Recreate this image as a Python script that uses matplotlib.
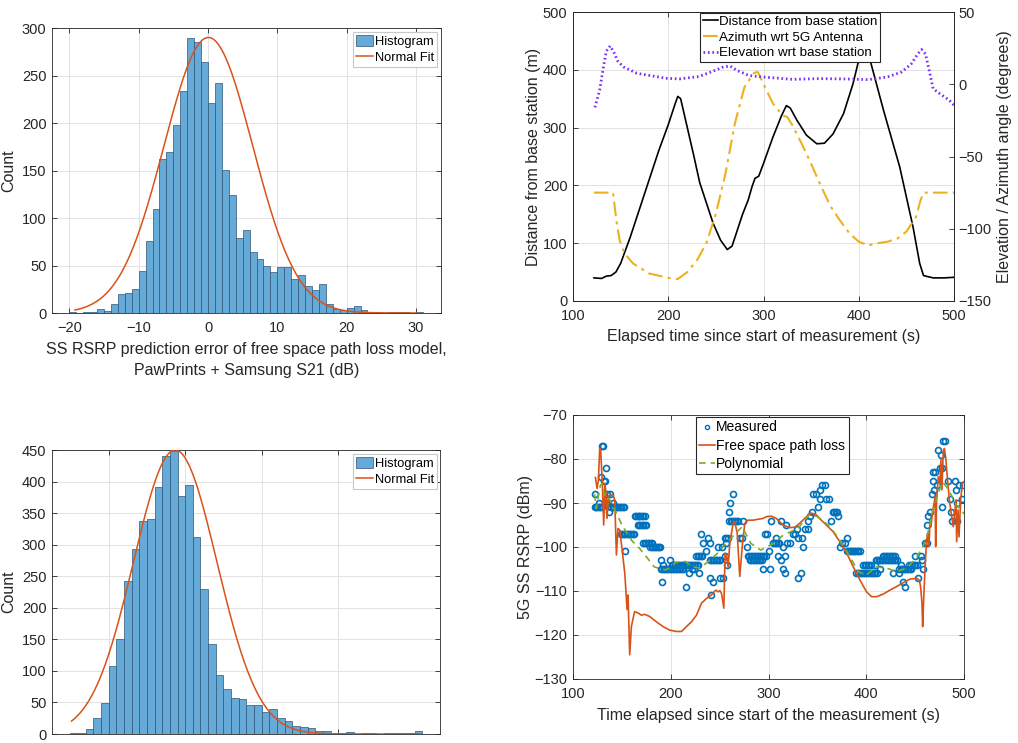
import numpy as np
import matplotlib
matplotlib.use('Agg')
import matplotlib.pyplot as plt
from matplotlib.lines import Line2D
from matplotlib.patches import Patch

plt.rcParams['font.family'] = ['Liberation Sans', 'DejaVu Sans']

TXT = '#262626'
GRID = '#e2e2e2'
BLUE = '#0072BD'
ORANGE = '#D95319'
YELLOW = '#EDB120'
GREEN = '#77AC30'
PURPLE = '#7B2FF7'
HIST_FACE = '#66AAD7'
HIST_EDGE = '#2f5577'

# ---------------- data ----------------
# top-left histogram (bin left edges, width 1 dB)
h1_left = list(range(-20, 31))
h1_counts = [1, 0, 1, 1, 4, 2, 9, 20, 21, 25, 44, 76, 110, 162, 169, 198, 234, 290, 285, 264,
             221, 242, 151, 124, 79, 87, 64, 57, 50, 43, 48, 48, 36, 40, 28, 24, 31, 10, 4, 3,
             5, 7, 3, 1, 1, 0, 1, 1, 1, 0, 1]
fit1_mu, fit1_sigma, fit1_peak = 0.05, 6.4, 290
fit1_range = (-19.2, 30.0)

# bottom-left histogram
h2_left = list(range(-15, 31))
h2_counts = [2, 1, 8, 25, 49, 107, 150, 242, 293, 337, 340, 391, 441, 448, 377, 394, 312, 230,
             142, 93, 71, 57, 56, 46, 46, 35, 40, 26, 20, 12, 11, 9, 5, 4, 2, 2, 3, 0, 2, 1,
             0, 1, 1, 1, 2, 5]
fit2_mu, fit2_sigma, fit2_peak = -1.3, 5.45, 450
fit2_range = (-14.85, 30.8)

# top-right: distance / azimuth / elevation
dist_t = [122, 130, 135, 140, 145, 150, 160, 170, 180, 190, 200, 207, 210, 213, 220, 227, 233,
          240, 247, 255, 262, 267, 272, 278, 284, 288, 291, 295, 300, 310, 319, 324, 328, 335,
          345, 356, 364, 373, 384, 394, 399, 404, 407, 410, 413, 426, 443, 457, 464, 468, 478,
          490, 500]
dist_m = [40, 39, 43, 44, 50, 65, 110, 160, 210, 260, 305, 340, 354, 350, 300, 250, 205,
          170, 135, 105, 89, 95, 120, 150, 175, 198, 212, 216, 238, 284, 321, 338, 334, 313,
          287, 272, 273, 289, 324, 376, 410, 440, 450, 432, 410, 330, 232, 128, 65, 44, 40,
          40, 41]
az_t = [122, 142, 145.5, 149, 154, 163, 180, 200, 210, 220, 230, 240, 250, 260, 270, 280, 290,
        294, 303, 310, 320, 325, 330, 340, 350, 360, 370, 380, 390, 400, 410, 420, 430, 440,
        450, 460, 465, 468, 500]
az_deg = [-75, -75, -94, -108, -117, -124, -131, -134, -134.8, -130, -122, -110, -89.6, -62,
          -27, -2, 7.8, 8.5, -4, -13.4, -21.5, -22.7, -28, -41, -55, -70, -84, -94, -103,
          -109, -111.5, -110, -109, -107, -102, -92, -80, -75, -75]
el_t = [123, 128, 132, 135, 139, 143, 147, 153, 167, 198, 212, 232, 245, 258, 265, 272, 285,
        300, 330, 360, 390, 410, 430, 445, 455, 462, 466, 470, 474, 478, 485, 495, 500]
el_deg = [-16, -4, 12, 23, 26.5, 22, 16, 12, 7.6, 4.1, 3.7, 5.3, 8.5, 12, 12.6, 9.6, 6,
          5, 3.4, 3.9, 3.6, 3.2, 5, 8.5, 14, 21, 24, 21, 9.6, -3, -6.5, -11, -14.6]

# bottom-right: measured RSRP (t, dBm)
measured = [
    (122, -88), (122, -91), (123.5, -91), (125, -91), (126.5, -91), (127, -90), (128, -91),
    (129, -84), (129.5, -77), (131, -77), (130, -91), (132, -85), (133, -85), (133.5, -82),
    (134, -90), (135, -88), (136, -90), (137, -92), (138, -88), (139, -91), (140.5, -91),
    (141, -90), (142, -91), (143.5, -91), (145, -91), (146.5, -91), (148, -91), (149.5, -91),
    (151, -91), (152.5, -91), (153, -101),
    (149, -97), (150.5, -97), (152, -97), (153.5, -97), (155, -97), (156.5, -97), (158, -97),
    (159.5, -97), (161, -97), (162.5, -97),
    (163, -93), (164.5, -93), (166, -93), (167.5, -93), (169, -93), (170.5, -93), (172, -93),
    (173.5, -93),
    (166, -95), (167.5, -95), (169, -95), (170.5, -95), (172, -95), (173.5, -95), (175, -95),
    (172, -99), (173.5, -99), (175, -99), (176.5, -99), (178, -99), (179.5, -99), (181, -99),
    (179, -100), (180.5, -100), (182, -100), (183.5, -100), (185, -100), (186.5, -100),
    (188, -100), (189.5, -100),
    (190.4, -103), (191, -108), (192, -104), (199, -103),
    (190, -105), (191.5, -105), (193, -105), (194.5, -105), (196, -105), (197.5, -105),
    (199, -105), (200.5, -105), (202, -105), (203.5, -105), (205, -105), (206.5, -105),
    (208, -105), (209.5, -105), (211, -105), (212.5, -105), (222, -105), (224, -105),
    (201, -104), (202.5, -104), (204, -104), (205.5, -104), (207, -104), (208.5, -104),
    (210, -104), (211.5, -104), (213, -104), (214.5, -104), (216, -104), (217.5, -104),
    (219, -104), (220.5, -104), (222, -104), (223.5, -104), (225, -104), (226.5, -104),
    (228, -104),
    (216, -109), (219, -106), (229, -106),
    (226, -102), (227.5, -102), (229, -102), (230.5, -102), (232, -102),
    (231, -97), (233, -99), (236, -101), (238, -98), (240, -99), (240.6, -107), (243, -108),
    (241.6, -111),
    (240, -103), (241.5, -103), (243, -103), (244.5, -103), (246, -103), (247.5, -103),
    (249, -103), (250.5, -103),
    (248.5, -100), (252, -100), (250, -107), (253, -107),
    (255, -98), (257, -98), (259, -98), (257, -99), (256, -102), (258, -104), (260, -92),
    (260.5, -90), (264, -88),
    (260, -94), (261.5, -94), (263, -94), (264.5, -94), (266, -94), (267.5, -94), (269, -94),
    (270.6, -98), (274, -94), (273, -98), (277.5, -100),
    (279, -102), (280.5, -102), (282, -102), (283.5, -102), (285, -102), (286.5, -102),
    (288, -102), (289.5, -102), (291, -102), (292.5, -102), (294, -102), (295.5, -102),
    (297, -102),
    (281, -103), (282.5, -103), (284, -103), (285.5, -103), (287, -103), (288.5, -103),
    (290, -103), (291.5, -103), (293, -103),
    (296, -97), (298, -97), (294, -105), (301, -101), (301.4, -105), (303, -94),
    (305, -99), (306.5, -99), (308, -99), (309.5, -99), (311, -99),
    (308, -98), (310, -102), (313, -94), (313, -103), (315, -105), (316.7, -106), (315, -100),
    (316.7, -102), (318, -95), (319, -99), (322, -99), (324.6, -97), (327, -97), (328.7, -96),
    (330, -107), (333, -106), (330, -98), (334, -98), (335.5, -100), (337, -96), (340.6, -96),
    (340.6, -94), (342, -93), (344, -92), (345.7, -88), (348.5, -88), (351, -91),
    (352.6, -89), (353, -87), (355, -86), (357.7, -86), (359, -89), (362, -89), (363.5, -94),
    (366, -92), (367.5, -92), (369, -92), (370.5, -92), (371, -93),
    (373, -100), (374.7, -99), (378, -99), (380, -98),
    (380, -101), (381.5, -101), (383, -101), (384.5, -101), (386, -101), (387.5, -101),
    (389, -101), (390.5, -101), (392, -101), (393.5, -101),
    (390, -106), (391.5, -106), (393, -106), (394.5, -106), (396, -106), (397.5, -106),
    (399, -106), (400.5, -106), (403, -106), (404.5, -106), (406, -106), (407.5, -106),
    (409, -106), (410.5, -106),
    (397, -104), (398.5, -104), (400, -104), (401.5, -104), (403, -104), (404.5, -104),
    (409, -104),
    (410, -103), (411.5, -103), (413, -103), (414.5, -103), (416, -103), (417.5, -103),
    (419, -103), (420.5, -103), (422, -103), (423.5, -103), (425, -103), (426.5, -103),
    (428, -103), (429.5, -103), (431, -103),
    (414, -105),
    (417, -102), (418.5, -102), (420, -102), (421.5, -102), (423, -102), (424.5, -102),
    (426, -102), (427.5, -102), (429, -102),
    (427.6, -106), (433, -106), (436, -104), (438, -108), (439.6, -109),
    (434, -105), (435.5, -105), (437, -105), (438.5, -105), (440, -105), (441.5, -105),
    (443, -105), (444.5, -105), (446, -105),
    (444, -104), (445.5, -104), (447, -104), (448.5, -104), (450, -104), (451.5, -104),
    (450, -102), (453, -107), (455.6, -102), (456.7, -103), (457.7, -105), (460, -99),
    (461, -99), (462.5, -99), (461.8, -95), (463.5, -93), (465, -92), (467, -88), (468, -85),
    (469, -87), (468.6, -83), (470, -83), (472, -86), (473.7, -78), (475.4, -82), (477, -82),
    (476.4, -79), (479, -76), (480.5, -76), (477, -91), (484, -85), (485.6, -89), (487, -92),
    (487.8, -94), (490.8, -85), (491.8, -87), (492.5, -94), (493, -90), (495, -86),
    (497.6, -89), (499.3, -86),
]
meas_t = [p[0] for p in measured]
meas_v = [p[1] for p in measured]

fspl_t = [122.9, 124.6, 126, 127.3, 128.3, 129, 130, 131.4, 132.8, 134, 134.8, 136, 137.5, 141,
          142.7, 144.4, 146, 147.8, 149.5, 153, 155.3, 156.3, 158, 159.7, 163, 166.6, 170,
          173.4, 178.5, 185.3, 192.2, 199, 205.8, 211, 216, 221.2, 226.3, 231.4, 236.5, 241.6,
          246, 248.5, 250.2, 251.9, 254.3, 255.6, 257, 258.7, 260.4, 263.8, 265.5, 268, 270.6,
          273.4, 275.8, 279, 284.3, 294.5, 298, 303, 308, 315, 321.8, 327, 332, 338.9, 344,
          349, 354, 361, 366, 373, 380, 386.7, 393.5, 400.3, 405.5, 410.6, 417.4, 424.2, 431,
          437.9, 444.7, 451.5, 454.2, 455.6, 457, 457.7, 459, 460.4, 461.8, 462.8, 464.2,
          465.2, 466.2, 468, 469.4, 470.4, 471, 472, 473.7, 475.4, 476.4, 477.4, 478.8, 479.9,
          481.2, 482.9, 485, 487.4, 489, 490.8, 491.8, 492.5, 493.9, 494.9, 496.6, 498.3,
          499.3]
fspl_v = [-84.2, -86.7, -84.8, -77.6, -78, -81, -85.5, -95, -85.5, -88.6, -93.5, -89.3, -88.2,
          -88.2, -89.3, -101.8, -95.8, -96.1, -99.2, -106, -114.2, -110.9, -124.5, -118.1,
          -114.7, -115, -115.5, -115.3, -115.8, -117, -118.1, -118.9, -119.2, -119.2, -118.1,
          -117, -115.5, -112.8, -111.7, -110.9, -109.8, -110.2, -109.9, -110.5, -113.9,
          -101.4, -102.2, -104.5, -99.2, -94.6, -94.2, -96.9, -106.7, -99.2, -94.6, -93.9,
          -93.9, -93.5, -93.1, -93, -93.5, -95, -95.6, -95.5, -94.6, -93.1, -92.3, -92.7,
          -93.9, -95.4, -96.5, -98.8, -101.4, -104.5, -107.5, -110.2, -111.3, -111.3, -110.7,
          -109.8, -109, -108.1, -107.3, -107.1, -107.5, -109, -112.8, -118.1, -110.5, -103.7,
          -98.4, -96.9, -99.9, -93.9, -95.4, -91.6, -90.1, -88.6, -99.9, -89.3, -84, -85.5,
          -80.2, -87, -78.3, -77.6, -79.5, -84, -89.3, -93.1, -95.4, -91.6, -89.3, -98.8,
          -91.6, -97.7, -89.3, -85.5, -85.2]

poly_t = [122, 124, 126, 128, 130, 133, 137, 140, 145, 150, 160, 168, 175, 183, 190, 195, 200,
          205, 215, 222, 230, 240, 250, 255, 265, 273, 282, 292, 305, 315, 330, 342, 350, 361,
          370, 380, 392, 400, 410, 421, 431, 441, 451, 458, 463, 468, 473, 478, 482, 487, 492,
          497, 500]
poly_v = [-88, -91.2, -88.2, -86, -85.5, -89, -89, -90.5, -92.5, -95, -98.5, -100.3, -102.2,
          -104.5, -105, -105.2, -104.5, -103.5, -103.3, -104.5, -104.8, -103, -101, -99.5,
          -97.2, -95.4, -99.2, -100.7, -99.2, -97.3, -95.8, -92.6, -93.1, -95, -97.5, -101,
          -105.6, -106.4, -104.5, -104.8, -105.6, -104.8, -102.6, -99.9, -96.9, -92, -88.2,
          -85.2, -86.3, -88.2, -90.5, -91.5, -92.5]

# ---------------- figure ----------------
fig = plt.figure(figsize=(10.18, 7.43), dpi=100)
W, H = 1018.0, 743.0


def axes_px(l, t, r, b):
    return fig.add_axes([l / W, 1 - b / H, (r - l) / W, (b - t) / H])


def style(ax, top_right=True):
    for s in ax.spines.values():
        s.set_color(TXT)
        s.set_linewidth(0.6)
    ax.tick_params(direction='in', length=3.5, width=0.6, colors=TXT, labelsize=10.5,
                   top=top_right, right=top_right)
    ax.tick_params(axis='x', pad=6)
    ax.tick_params(axis='y', pad=4)
    ax.grid(True, color=GRID, linewidth=0.7)
    ax.set_axisbelow(True)


def legend_style(leg, edge):
    fr = leg.get_frame()
    fr.set_edgecolor(edge)
    fr.set_linewidth(0.8)
    fr.set_boxstyle('square', pad=0.0)
    for t in leg.get_texts():
        t.set_color('black')


# ---- top-left histogram ----
ax1 = axes_px(52, 28, 441, 313)
style(ax1)
ax1.bar(h1_left, h1_counts, width=1.0, align='edge', color=HIST_FACE,
        edgecolor=HIST_EDGE, linewidth=0.5, zorder=2)
x1 = np.linspace(fit1_range[0], fit1_range[1], 300)
ax1.plot(x1, fit1_peak * np.exp(-(x1 - fit1_mu) ** 2 / (2 * fit1_sigma ** 2)),
         color=ORANGE, lw=1.1, zorder=3)
ax1.set_xlim(-22.5, 33.6)
ax1.set_ylim(0, 300)
ax1.set_xticks([-20, -10, 0, 10, 20, 30])
ax1.set_yticks([0, 50, 100, 150, 200, 250, 300])
ax1.set_ylabel('Count', fontsize=11.5, color=TXT, labelpad=4)
ax1.set_xlabel('SS RSRP prediction error of free space path loss model,\n'
               'PawPrints + Samsung S21 (dB)', fontsize=11.5, color=TXT, labelpad=5,
               linespacing=1.45)
h_hist = Patch(facecolor=HIST_FACE, edgecolor=HIST_EDGE, linewidth=0.5)
h_fit = Line2D([], [], color=ORANGE, lw=1.1)
leg1 = ax1.legend([h_hist, h_fit], ['Histogram', 'Normal Fit'], loc='upper right',
                  bbox_to_anchor=((437 - 52) / 389, 1 - 4 / 285), fontsize=9.3,
                  handlelength=1.35, handleheight=0.9, handletextpad=0.1, borderpad=0.25,
                  labelspacing=0.25, borderaxespad=0, fancybox=False, framealpha=1)
legend_style(leg1, '#c8c8c8')

# ---- bottom-left histogram ----
ax3 = axes_px(52, 450, 440, 734)
style(ax3)
ax3.bar(h2_left, h2_counts, width=1.0, align='edge', color=HIST_FACE,
        edgecolor=HIST_EDGE, linewidth=0.5, zorder=2)
x2 = np.linspace(fit2_range[0], fit2_range[1], 300)
ax3.plot(x2, fit2_peak * np.exp(-(x2 - fit2_mu) ** 2 / (2 * fit2_sigma ** 2)),
         color=ORANGE, lw=1.1, zorder=3)
ax3.set_xlim(-17.4, 33.3)
ax3.set_ylim(0, 450)
ax3.set_xticks([-10, 0, 10, 20])
ax3.set_yticks(range(0, 451, 50))
ax3.tick_params(labelbottom=False)
ax3.set_ylabel('Count', fontsize=11.5, color=TXT, labelpad=4)
leg3 = ax3.legend([h_hist, h_fit], ['Histogram', 'Normal Fit'], loc='upper right',
                  bbox_to_anchor=((437 - 52) / 388, 1 - 4 / 284), fontsize=9.3,
                  handlelength=1.35, handleheight=0.9, handletextpad=0.1, borderpad=0.25,
                  labelspacing=0.25, borderaxespad=0, fancybox=False, framealpha=1)
legend_style(leg3, '#c8c8c8')

# ---- top-right distance / angles ----
ax2 = axes_px(573, 12, 954, 301)
style(ax2, top_right=False)
ax2.tick_params(top=True)
l_dist, = ax2.plot(dist_t, dist_m, color='black', lw=1.2, zorder=3)
ax2.set_xlim(100, 500)
ax2.set_ylim(0, 500)
ax2.set_xticks([100, 200, 300, 400, 500])
ax2.set_yticks([0, 100, 200, 300, 400, 500])
ax2.set_xlabel('Elapsed time since start of measurement (s)', fontsize=11.5, color=TXT,
               labelpad=4)
ax2.set_ylabel('Distance from base station (m)', fontsize=11.5, color=TXT, labelpad=1)
ax2b = ax2.twinx()
ax2b.set_ylim(-150, 50)
ax2b.set_yticks([-150, -100, -50, 0, 50])
ax2b.tick_params(direction='in', length=3.5, width=0.6, colors=TXT, labelsize=10.5, pad=3)
for s in ax2b.spines.values():
    s.set_color(TXT)
    s.set_linewidth(0.6)
l_az, = ax2b.plot(az_t, az_deg, color=YELLOW, lw=1.5, linestyle=(0, (7, 2.5, 1.5, 2.5)))
l_el, = ax2b.plot(el_t, el_deg, color=PURPLE, lw=2.0, linestyle=(0, (0.6, 1.0)))
ax2b.set_ylabel('Elevation / Azimuth angle (degrees)', fontsize=11.5, color=TXT, labelpad=4)
leg2 = ax2b.legend([l_dist, l_az, l_el],
                   ['Distance from base station', 'Azimuth wrt 5G Antenna',
                    'Elevation wrt base station'],
                   loc='upper left', bbox_to_anchor=((700 - 573) / 381, 1 - 1 / 289),
                   fontsize=9.6, handlelength=1.15, handletextpad=0.1, borderpad=0.2,
                   labelspacing=0.25, borderaxespad=0, fancybox=False, framealpha=1)
legend_style(leg2, TXT)

# ---- bottom-right RSRP ----
ax4 = axes_px(573, 415, 964, 679)
style(ax4)
l_meas, = ax4.plot(meas_t, meas_v, linestyle='none', marker='o', markersize=4.3,
                   markerfacecolor='none', markeredgecolor=BLUE, markeredgewidth=1.2,
                   zorder=3)
l_fspl, = ax4.plot(fspl_t, fspl_v, color=ORANGE, lw=1.2, zorder=4)
l_poly, = ax4.plot(poly_t, poly_v, color=GREEN, lw=1.2, linestyle=(0, (4, 3)), zorder=5)
ax4.set_xlim(100, 500)
ax4.set_ylim(-130, -70)
ax4.set_xticks([100, 200, 300, 400, 500])
ax4.set_yticks(range(-130, -69, 10))
ax4.set_xlabel('Time elapsed since start of the measurement (s)', fontsize=11.5, color=TXT,
               labelpad=5)
ax4.set_ylabel('5G SS RSRP (dBm)', fontsize=11.5, color=TXT, labelpad=1)
h_meas = Line2D([], [], linestyle='none', marker='o', markersize=3, markerfacecolor='none',
                markeredgecolor=BLUE, markeredgewidth=1.0)
leg4 = ax4.legend([h_meas, l_fspl, l_poly], ['Measured', 'Free space path loss', 'Polynomial'],
                  loc='upper left', bbox_to_anchor=((696 - 573) / 391, 1 - 2 / 264),
                  fontsize=10, handlelength=1.1, handletextpad=0.1, borderpad=0.25,
                  labelspacing=0.3, borderaxespad=0, fancybox=False, framealpha=1)
legend_style(leg4, TXT)

fig.savefig('out.png', dpi=100)
